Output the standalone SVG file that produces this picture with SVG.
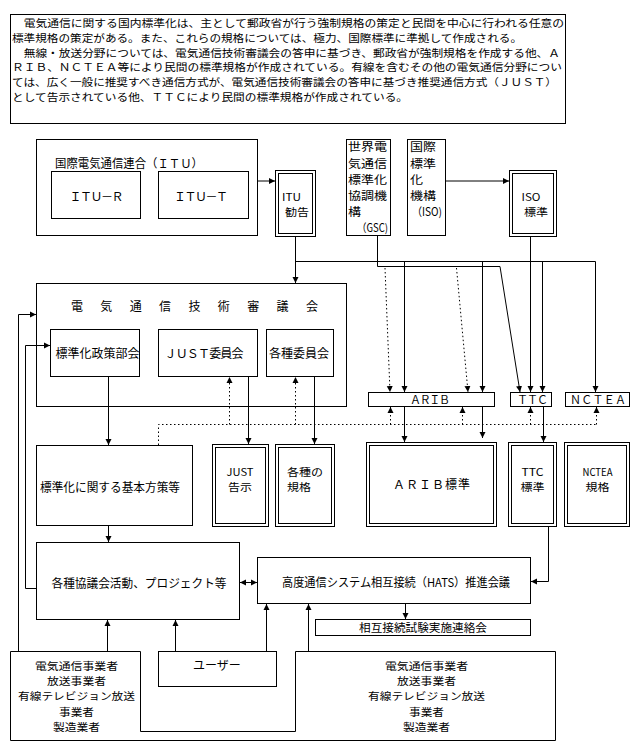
<svg xmlns="http://www.w3.org/2000/svg" width="640" height="751" viewBox="0 0 640 751">
<style>
.b{fill:#fff;stroke:#000;stroke-width:1}
.n{fill:none;stroke:#000;stroke-width:1}
text{font-family:"Noto Sans CJK JP","Noto Sans CJK SC",sans-serif;font-size:12px;fill:#000}
.c{text-anchor:middle}
.p{font-size:10.2px}
.m{font-size:10.3px}
.t{font-size:10.6px}
.g{font-size:11.2px}
#connectors path{fill:none;stroke:#000;stroke-width:1}
#connectors .d{stroke-dasharray:1.5 2.5}
</style>
<defs>
<marker id="a" markerUnits="userSpaceOnUse" markerWidth="7" markerHeight="7" refX="6" refY="3.5" orient="auto-start-reverse" viewBox="0 0 7 7">
<path d="M0,0.5 L6,3.5 L0,6.5 z" fill="#000"/>
</marker>
</defs>
<rect x="0" y="0" width="640" height="751" fill="#fff"/>

<g id="intro">
<rect class="b" x="10.5" y="14.5" width="555" height="109"/>
<text class="p"><tspan x="12" y="27" textLength="552" lengthAdjust="spacingAndGlyphs">　電気通信に関する国内標準化は、主として郵政省が行う強制規格の策定と民間を中心に行われる任意の</tspan><tspan x="12" y="41.8" textLength="510" lengthAdjust="spacingAndGlyphs">標準規格の策定がある。また、これらの規格については、極力、国際標準に準拠して作成される。</tspan><tspan x="12" y="56.6" textLength="548" lengthAdjust="spacingAndGlyphs">　無線・放送分野については、電気通信技術審議会の答申に基づき、郵政省が強制規格を作成する他、Ａ</tspan><tspan x="12" y="71.4" textLength="550" lengthAdjust="spacingAndGlyphs">ＲＩＢ、ＮＣＴＥＡ等により民間の標準規格が作成されている。有線を含むその他の電気通信分野につい</tspan><tspan x="12" y="86.2" textLength="545" lengthAdjust="spacingAndGlyphs">ては、広く一般に推奨すべき通信方式が、電気通信技術審議会の答申に基づき推奨通信方式（ＪＵＳＴ）</tspan><tspan x="12" y="101" textLength="396" lengthAdjust="spacingAndGlyphs">として告示されている他、ＴＴＣにより民間の標準規格が作成されている。</tspan></text>
</g>

<g id="itu">
<rect class="b" x="36.5" y="139.5" width="221" height="96"/>
<text x="55" y="167.5" textLength="148" lengthAdjust="spacingAndGlyphs">国際電気通信連合（ＩＴＵ）</text>
</g>
<g id="itu-r">
<rect class="b" x="51.5" y="171.5" width="89" height="47"/>
<text class="c" x="96.5" y="201" textLength="54" lengthAdjust="spacing">ＩＴＵ－Ｒ</text>
</g>
<g id="itu-t">
<rect class="b" x="158.5" y="171.5" width="90" height="47"/>
<text class="c" x="201" y="201" textLength="54" lengthAdjust="spacing">ＩＴＵ－Ｔ</text>
</g>
<g id="itu-rec">
<rect class="b" x="275.5" y="170.5" width="40" height="66"/>
<rect class="n" x="278.5" y="173.5" width="34" height="60"/>
<text class="t"><tspan x="282" y="200.5" textLength="19" lengthAdjust="spacingAndGlyphs">ITU</tspan><tspan x="285" y="216" textLength="24" lengthAdjust="spacingAndGlyphs">勧告</tspan></text>
</g>

<g id="gsc">
<rect class="b" x="346.5" y="139.5" width="44" height="96"/>
<text class="g"><tspan x="348" y="151" textLength="39" lengthAdjust="spacingAndGlyphs">世界電</tspan><tspan x="348" y="167.5" textLength="39" lengthAdjust="spacingAndGlyphs">気通信</tspan><tspan x="348" y="184" textLength="39" lengthAdjust="spacingAndGlyphs">標準化</tspan><tspan x="348" y="200" textLength="39" lengthAdjust="spacingAndGlyphs">協調機</tspan><tspan x="348" y="216" textLength="13" lengthAdjust="spacingAndGlyphs">構</tspan><tspan x="357" y="232" textLength="31" lengthAdjust="spacingAndGlyphs">（GSC)</tspan></text>
</g>
<g id="iso">
<rect class="b" x="407.5" y="139.5" width="38" height="96"/>
<text class="g"><tspan x="410" y="151" textLength="26" lengthAdjust="spacingAndGlyphs">国際</tspan><tspan x="410" y="167.5" textLength="26" lengthAdjust="spacingAndGlyphs">標準</tspan><tspan x="410" y="184" textLength="13" lengthAdjust="spacingAndGlyphs">化</tspan><tspan x="410" y="200" textLength="26" lengthAdjust="spacingAndGlyphs">機構</tspan><tspan x="412" y="216" textLength="30" lengthAdjust="spacingAndGlyphs">（ISO)</tspan></text>
</g>
<g id="iso-std">
<rect class="b" x="509.5" y="170.5" width="47" height="66"/>
<rect class="n" x="512.5" y="173.5" width="41" height="60"/>
<text class="t"><tspan x="521.5" y="200.5" textLength="19" lengthAdjust="spacingAndGlyphs">ISO</tspan><tspan x="524" y="216" textLength="24" lengthAdjust="spacingAndGlyphs">標準</tspan></text>
</g>

<g id="council">
<rect class="b" x="36.5" y="283.5" width="310" height="123"/>
<text x="71" y="310.5" textLength="247" lengthAdjust="spacing">電気通信技術審議会</text>
</g>
<g id="policy">
<rect class="b" x="50.5" y="329.5" width="89" height="47"/>
<text class="c" x="97.5" y="358">標準化政策部会</text>
</g>
<g id="just-comm">
<rect class="b" x="158.5" y="329.5" width="99" height="47"/>
<text class="c" x="204" y="358" textLength="79" lengthAdjust="spacing">ＪＵＳＴ委員会</text>
</g>
<g id="various-comm">
<rect class="b" x="266.5" y="329.5" width="67" height="47"/>
<text class="c" x="299" y="358">各種委員会</text>
</g>

<g id="arib">
<rect class="b" x="368.5" y="392.5" width="126" height="14"/>
<text class="c" x="430" y="404" textLength="40" lengthAdjust="spacing" style="font-size:11px">ＡＲＩＢ</text>
</g>
<g id="ttc">
<rect class="b" x="510.5" y="392.5" width="41" height="14"/>
<text class="c" x="532.5" y="404" textLength="31" lengthAdjust="spacing" style="font-size:11px">ＴＴＣ</text>
</g>
<g id="nctea">
<rect class="b" x="565.5" y="392.5" width="64" height="14"/>
<text class="c" x="598" y="404" textLength="56" lengthAdjust="spacing" style="font-size:11px">ＮＣＴＥＡ</text>
</g>

<g id="basic-policy">
<rect class="b" x="36.5" y="445.5" width="156" height="80"/>
<text x="40" y="492" textLength="140" lengthAdjust="spacingAndGlyphs">標準化に関する基本方策等</text>
</g>
<g id="just-notice">
<rect class="b" x="212.5" y="444.5" width="56" height="82"/>
<rect class="n" x="215.5" y="447.5" width="50" height="76"/>
<text class="c t"><tspan x="240" y="475.5" textLength="27" lengthAdjust="spacingAndGlyphs">JUST</tspan><tspan x="240" y="491" textLength="24" lengthAdjust="spacingAndGlyphs">告示</tspan></text>
</g>
<g id="various-std">
<rect class="b" x="275.5" y="444.5" width="59" height="82"/>
<rect class="n" x="278.5" y="447.5" width="53" height="76"/>
<text class="t"><tspan x="287" y="475.5" textLength="36" lengthAdjust="spacingAndGlyphs">各種の</tspan><tspan x="287" y="491" textLength="24" lengthAdjust="spacingAndGlyphs">規格</tspan></text>
</g>
<g id="arib-std">
<rect class="b" x="366.5" y="442.5" width="130" height="84"/>
<rect class="n" x="369.5" y="445.5" width="124" height="78"/>
<text class="c" x="431.5" y="489" textLength="77" lengthAdjust="spacing">ＡＲＩＢ標準</text>
</g>
<g id="ttc-std">
<rect class="b" x="508.5" y="442.5" width="48" height="84"/>
<rect class="n" x="511.5" y="445.5" width="42" height="78"/>
<text class="c t"><tspan x="532.5" y="475.5" textLength="22" lengthAdjust="spacingAndGlyphs">TTC</tspan><tspan x="532.5" y="491" textLength="24" lengthAdjust="spacingAndGlyphs">標準</tspan></text>
</g>
<g id="nctea-std">
<rect class="b" x="564.5" y="442.5" width="65" height="84"/>
<rect class="n" x="567.5" y="445.5" width="59" height="78"/>
<text class="c t"><tspan x="597.5" y="475.5" textLength="30" lengthAdjust="spacingAndGlyphs">NCTEA</tspan><tspan x="597.5" y="491" textLength="24" lengthAdjust="spacingAndGlyphs">規格</tspan></text>
</g>

<g id="councils-activities">
<rect class="b" x="36.5" y="542.5" width="203" height="77"/>
<text class="c" x="139" y="588" textLength="175" lengthAdjust="spacingAndGlyphs">各種協議会活動、プロジェクト等</text>
</g>
<g id="hats">
<rect class="b" x="257.5" y="557.5" width="273" height="46"/>
<text class="c" x="396" y="587" textLength="228" lengthAdjust="spacingAndGlyphs">高度通信システム相互接続（HATS）推進会議</text>
</g>
<g id="interop">
<rect class="b" x="315.5" y="619.5" width="215" height="16"/>
<text class="c" x="423" y="631.5" style="font-size:11px" textLength="128" lengthAdjust="spacingAndGlyphs">相互接続試験実施連絡会</text>
</g>

<g id="stakeholders">
<path class="b" d="M10.5,651.5 H140.5 V731.5 H295.5 V651.5 H555.5 V740.5 H10.5 Z"/>
<text class="c m"><tspan x="76.5" y="670" textLength="83" lengthAdjust="spacingAndGlyphs">電気通信事業者</tspan><tspan x="76.5" y="685.2" textLength="59" lengthAdjust="spacingAndGlyphs">放送事業者</tspan><tspan x="76.5" y="700.4" textLength="117" lengthAdjust="spacingAndGlyphs">有線テレビジョン放送</tspan><tspan x="76.5" y="715.6" textLength="35" lengthAdjust="spacingAndGlyphs">事業者</tspan><tspan x="76.5" y="730.8" textLength="47" lengthAdjust="spacingAndGlyphs">製造業者</tspan></text>
<text class="c m"><tspan x="426.5" y="670" textLength="83" lengthAdjust="spacingAndGlyphs">電気通信事業者</tspan><tspan x="426.5" y="685.2" textLength="59" lengthAdjust="spacingAndGlyphs">放送事業者</tspan><tspan x="426.5" y="700.4" textLength="117" lengthAdjust="spacingAndGlyphs">有線テレビジョン放送</tspan><tspan x="426.5" y="715.6" textLength="35" lengthAdjust="spacingAndGlyphs">事業者</tspan><tspan x="426.5" y="730.8" textLength="47" lengthAdjust="spacingAndGlyphs">製造業者</tspan></text>
</g>
<g id="users">
<rect class="b" x="158.5" y="651.5" width="118" height="35"/>
<text class="c" x="217" y="669.5">ユーザー</text>
</g>

<g id="connectors">
<path d="M257.5,181 H275" marker-end="url(#a)"/>
<path d="M445.5,181 H509" marker-end="url(#a)"/>
<path d="M295.5,236.5 V283" marker-end="url(#a)"/>
<path d="M295.5,261.5 H595.5 V392" marker-end="url(#a)"/>
<path d="M404.5,261.5 V392" marker-end="url(#a)"/>
<path d="M482.5,261.5 V392" marker-end="url(#a)"/>
<path d="M542.5,261.5 V392" marker-end="url(#a)"/>
<path d="M377.5,235.5 V266.5 H500 L520,392" marker-end="url(#a)"/>
<path d="M530.5,236.5 V392" marker-end="url(#a)"/>
<path class="d" d="M385,268 L390,392" marker-end="url(#a)"/>
<path class="d" d="M456.5,268 L468,392" marker-end="url(#a)"/>
<path class="d" d="M158.5,445 V424.5 H596.5"/>
<path class="d" d="M229.5,424.5 V377" marker-end="url(#a)"/>
<path class="d" d="M295.5,424.5 V377" marker-end="url(#a)"/>
<path class="d" d="M390.5,424.5 V407" marker-end="url(#a)"/>
<path class="d" d="M462.5,424.5 V407" marker-end="url(#a)"/>
<path class="d" d="M530.5,424.5 V407" marker-end="url(#a)"/>
<path class="d" d="M596.5,424.5 V407" marker-end="url(#a)"/>
<path d="M108.5,376.5 V445" marker-end="url(#a)"/>
<path d="M248.5,376.5 V444" marker-end="url(#a)"/>
<path d="M314.5,376.5 V444" marker-end="url(#a)"/>
<path d="M404.5,406.5 V442" marker-end="url(#a)"/>
<path d="M482.5,406.5 V438" marker-end="url(#a)"/>
<path d="M543.5,406.5 V442" marker-end="url(#a)"/>
<path d="M108.5,525.5 V542" marker-end="url(#a)"/>
<path d="M548.5,526.5 V581.5 H531" marker-end="url(#a)"/>
<path d="M240,582.5 H257" marker-start="url(#a)" marker-end="url(#a)"/>
<path d="M405.5,603.5 V619" marker-end="url(#a)"/>
<path d="M107.5,651.5 V620" marker-end="url(#a)"/>
<path d="M175.5,651.5 V620" marker-end="url(#a)"/>
<path d="M266.5,651.5 V604" marker-end="url(#a)"/>
<path d="M308.5,651.5 V604" marker-end="url(#a)"/>
<path d="M18.5,651.5 V314.5 H36" marker-end="url(#a)"/>
<path d="M36.5,588.5 H25.5 V345.5 H50" marker-end="url(#a)"/>
</g>
</svg>
